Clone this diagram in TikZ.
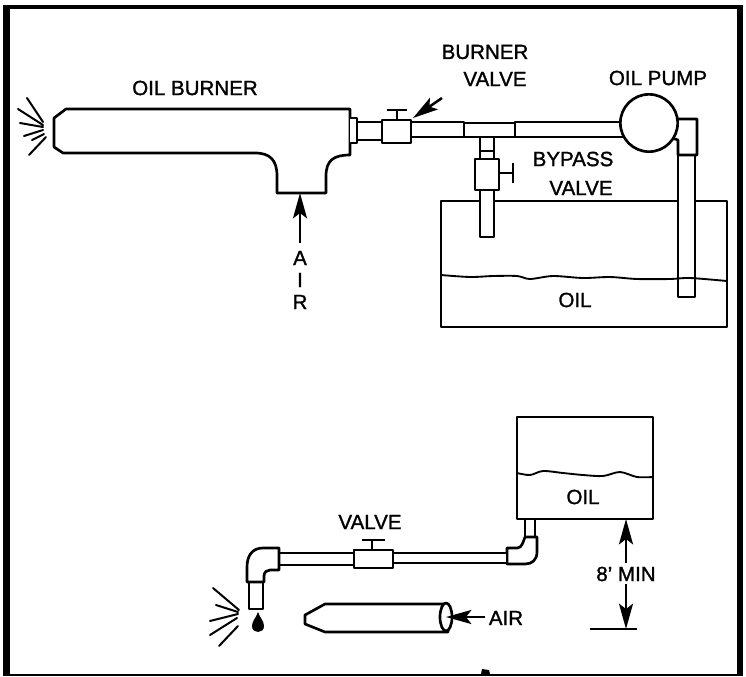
\documentclass[tikz,border=0pt]{standalone}
\usepackage{fontspec}
\setmainfont{Liberation Sans}[FakeBold=1.3]
\usetikzlibrary{arrows.meta}
\tikzset{
  part/.style={draw=black,fill=white,line width=2pt,line join=round},
  thin part/.style={draw=black,line width=1.6pt,line join=round},
  spark/.style={draw=black,line width=1.5pt,line cap=round},
  flow/.style={draw=black,line width=1.9pt,-{Stealth[length=19pt,width=10.5pt,inset=4pt]}},
  lab/.style={font=\fontsize{15.4}{17}\selectfont,inner sep=0pt,text=black}
}
\begin{document}
\begin{tikzpicture}[x=0.75pt,y=-0.75pt]
\useasboundingbox (0,0) rectangle (746,676);
\fill[white] (0,0) rectangle (746,676);
% frame
\draw[line width=4.6pt] (6.5,5) -- (6.5,676);
\draw[line width=3.4pt] (4,7) -- (743,7);
\draw[line width=4.6pt] (740,5) -- (740,676);
\draw[line width=1.6pt] (4,675) -- (743,675);
\fill (482,669) -- (489,670) -- (490,674) -- (481,674) -- cycle;
% top tank
\draw[part] (441,201) rectangle (727,327);
% burner
\draw[part] (66,109) -- (350,109) -- (350,155) .. controls (334,155) and (326,160) .. (326,176) -- (326,193) -- (277,193) -- (277,176) .. controls (277,160) and (270,153) .. (255,153) -- (63,153) -- (54,147) -- (54,118) -- cycle;
\draw[part] (350,118) -- (357,118) -- (357,143) -- (350,143);
\draw[part] (357,122) rectangle (383,140);
% burner valve
\draw[part] (411,122) rectangle (464,137);
\draw[part] (382,120) rectangle (411,143);
\draw[part] (397,120) -- (397,110) (387,110) -- (407,110);
% tee
\draw[part] (480,137) rectangle (494,151);
\draw[part] (480,151) rectangle (494,159);
\draw[part] (480,190) rectangle (494,237);
\draw[part] (464,123) -- (515,123) -- (515,137) -- (494,137) -- (480,137) -- (464,137) -- cycle;
\draw[part] (515,122) rectangle (628,137);
% bypass valve
\draw[part] (475,159) rectangle (499,190);
\draw[part] (499,173) -- (513,173) (513,163) -- (513,183);
% pump pipe
\draw[part] (678,155) rectangle (695,297);
\draw[part] (672,119) -- (697,119) -- (697,155) -- (678,155) -- (678,140) -- (672,138) -- cycle;
\node[part,circle,minimum size=43pt,inner sep=0pt] (pump) at (649,123) {};
% oil level top
\draw[thin part,line width=1.4pt] plot[smooth] coordinates {(441,275) (470,277) (493,276) (517,276) (530,279) (553,276) (583,278) (610,277) (637,279) (670,279) (690,278) (727,281)};
% top arrows
\coordinate (airtail) at (300,243);
\coordinate (airhead) at (300,193);
\draw[flow] (airtail) -- (airhead);
\coordinate (bvtail) at (442,98);
\coordinate (bvhead) at (413,118);
\draw[flow] (bvtail) -- (bvhead);
% sparks top
\draw[spark] (27,98) -- (43,122) (18,109) -- (43,125) (20,123) -- (43,127) (24,136) -- (43,130) (32,140) -- (44,134) (29,155) -- (46,137);
% top labels
\node[lab] (oilburner) at (195,88) {OIL BURNER};
\node[lab] (burner1) at (485,52) {BURNER};
\node[lab] (burner2) at (495,79) {VALVE};
\node[lab] (oilpump) at (658,78) {OIL PUMP};
\node[lab] (bypass1) at (573,159) {BYPASS};
\node[lab] (bypass2) at (581,188) {VALVE};
\node[lab] (oil1) at (575,300) {OIL};
\node[lab] (aira) at (300,258) {A};
\node[lab] (airi) at (300,280) {I};
\node[lab] (airr) at (300,302) {R};
% bottom tank
\draw[part] (517,417) rectangle (653,519);
\draw[thin part,line width=1.4pt] plot[smooth] coordinates {(517,473) (530,475) (543,471) (563,473) (583,475) (603,476) (620,472) (637,477) (653,477)};
\node[lab] (oil2) at (583,497) {OIL};
% bottom pipe
\draw[part] (525,519) rectangle (535,537);
\draw[part] (507,548) -- (517,548) .. controls (522,548) and (523,542) .. (525,537) -- (537,537) -- (537,552) .. controls (537,560) and (532,564) .. (525,564) -- (507,564) -- cycle;
\draw[part] (393,553) rectangle (507,563);
\draw[part] (279,553) rectangle (354,565);
\draw[part] (354,550) rectangle (393,568);
\draw[part] (372,550) -- (372,540) (362,540) -- (385,540);
\draw[part] (249,582) rectangle (263,609);
\draw[part] (279,548) -- (263,548) .. controls (252,548) and (247,556) .. (247,567) -- (247,582) -- (264,582) -- (264,576) .. controls (264,572) and (267,570) .. (270,570) -- (279,570) -- cycle;
\fill (258,612) .. controls (260,618) and (264,621) .. (264,626) .. controls (264,630) and (261,632) .. (258,632) .. controls (255,632) and (252,630) .. (252,626) .. controls (252,621) and (256,618) .. (258,612) -- cycle;
\draw[spark] (213,588) -- (239,610) (216,605) -- (238,612) (210,621) -- (238,614) (210,635) -- (237,618) (219,646) -- (238,626);
% small burner
\draw[part] (325,604) -- (448,604) -- (448,632) -- (325,632) -- (305,624) -- (305,615) -- cycle;
\draw[part] (446,617) ellipse (6 and 14);
\coordinate (ntail) at (485,617);
\coordinate (nhead) at (446,617);
\draw[flow] (ntail) -- (nhead);
\node[lab] (air2) at (506,618) {AIR};
\node[lab] (valve3) at (370,522) {VALVE};
% dimension
\node[lab] (dim) at (626,574) {8' MIN};
\coordinate (dimtop) at (626,519);
\coordinate (dimbot) at (626,629);
\coordinate (dimtail1) at (626,563);
\coordinate (dimtail2) at (626,584);
\draw[flow] (dimtail1) -- (dimtop);
\draw[flow] (dimtail2) -- (dimbot);
\coordinate (baseL) at (590,629);
\coordinate (baseR) at (637,629);
\draw[line width=2pt] (baseL) -- (baseR);
\end{tikzpicture}
\end{document}
